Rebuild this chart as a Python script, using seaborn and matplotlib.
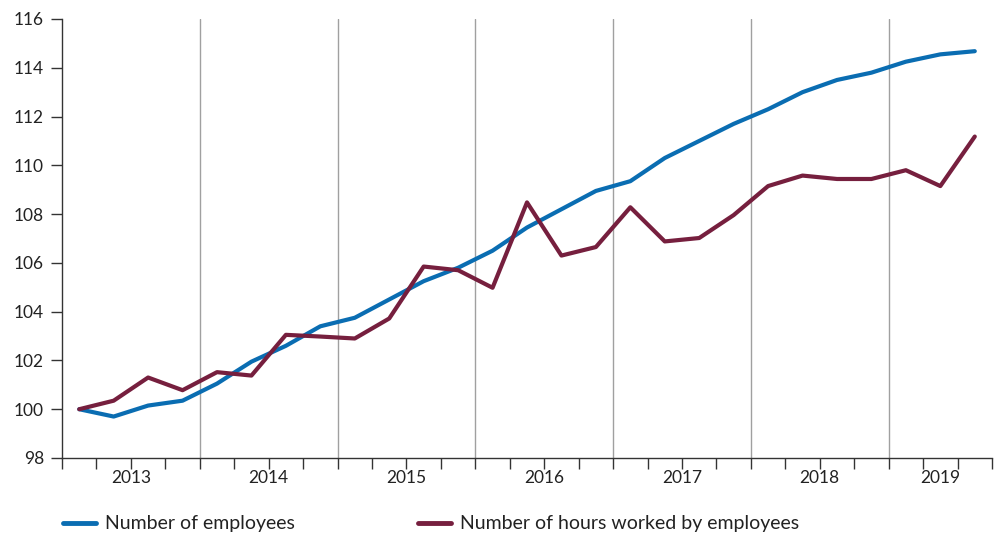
import numpy as np
import pandas as pd
import matplotlib
matplotlib.use("Agg")
import matplotlib.pyplot as plt
import matplotlib.transforms as mtransforms
import seaborn as sns

# Quarterly index values, 2013 Q1 = 100
years = [2013, 2014, 2015, 2016, 2017, 2018, 2019]
quarters = [f"{y}Q{q}" for y in years for q in range(1, 5)][:27]  # up to 2019 Q3
employees = [100.0, 99.7, 100.15, 100.35, 101.05, 101.95, 102.6, 103.4, 103.75,
             104.5, 105.25, 105.8, 106.5, 107.45, 108.2, 108.95, 109.35, 110.3,
             111.0, 111.7, 112.3, 113.0, 113.5, 113.8, 114.25, 114.55, 114.68]
hours = [100.0, 100.35, 101.3, 100.78, 101.52, 101.38, 103.05, 102.98, 102.9,
         103.72, 105.85, 105.7, 104.98, 108.48, 106.3, 106.65, 108.28, 106.88,
         107.02, 107.96, 109.15, 109.58, 109.44, 109.44, 109.8, 109.15, 111.18]
series_names = ["Number of employees", "Number of hours worked by employees"]
colors = ["#0a6db2", "#761f3e"]

df = pd.DataFrame({"quarter": quarters, "idx": np.arange(len(quarters)),
                   series_names[0]: employees, series_names[1]: hours})
long = df.melt(id_vars=["quarter", "idx"], var_name="series", value_name="value")

sns.set_style("white")
plt.rcParams["font.family"] = ["Lato", "DejaVu Sans"]

fig = plt.figure(figsize=(9.98, 5.36), dpi=100)
ax = fig.add_axes([62 / 998, 1 - 458 / 536, (992 - 62) / 998, (458 - 19) / 536])

sns.lineplot(data=long, x="idx", y="value", hue="series", palette=colors,
             linewidth=3, ax=ax, legend=False)

# year separators
for i in range(1, len(years)):
    ax.axvline(i * 4 - 0.5, color="#a0a0a0", lw=1, zorder=0)

n = len(quarters)
ax.set_xlim(-0.5, n - 0.5)
ax.set_ylim(98, 116)
ax.set_yticks(np.arange(98, 117, 2))
ax.set_xticks(np.arange(-0.5, n, 1))
ax.set_xticklabels([])
ax.tick_params(axis="x", bottom=True, length=8, width=1, color="#333333", direction="out")
ax.tick_params(axis="y", left=True, length=8, width=1, color="#333333", labelsize=12.5,
               labelcolor="#222222", pad=5)

# year labels centred in the visible part of each year
trans = mtransforms.blended_transform_factory(ax.transData, ax.transAxes)
for i, y in enumerate(years):
    c = (max(-0.5, i * 4 - 0.5) + min(n - 0.5, i * 4 + 3.5)) / 2
    ax.text(c, -0.028, str(y), transform=trans, ha="center", va="top",
            fontsize=12.5, color="#222222")

ax.set_xlabel("")
ax.set_ylabel("")
sns.despine(ax=ax)
for s in ["left", "bottom"]:
    ax.spines[s].set_color("#333333")
    ax.spines[s].set_linewidth(1)

handles = [plt.Line2D([], [], color=c, lw=3.5) for c in colors]
fig.legend(handles, series_names, loc="center left", bbox_to_anchor=(45 / 998, 1 - 524 / 536),
           ncol=2, frameon=False, fontsize=14, handlelength=1.7, handletextpad=0.5,
           columnspacing=6.3, labelcolor="#222222")

fig.savefig("out.png", dpi=100)
